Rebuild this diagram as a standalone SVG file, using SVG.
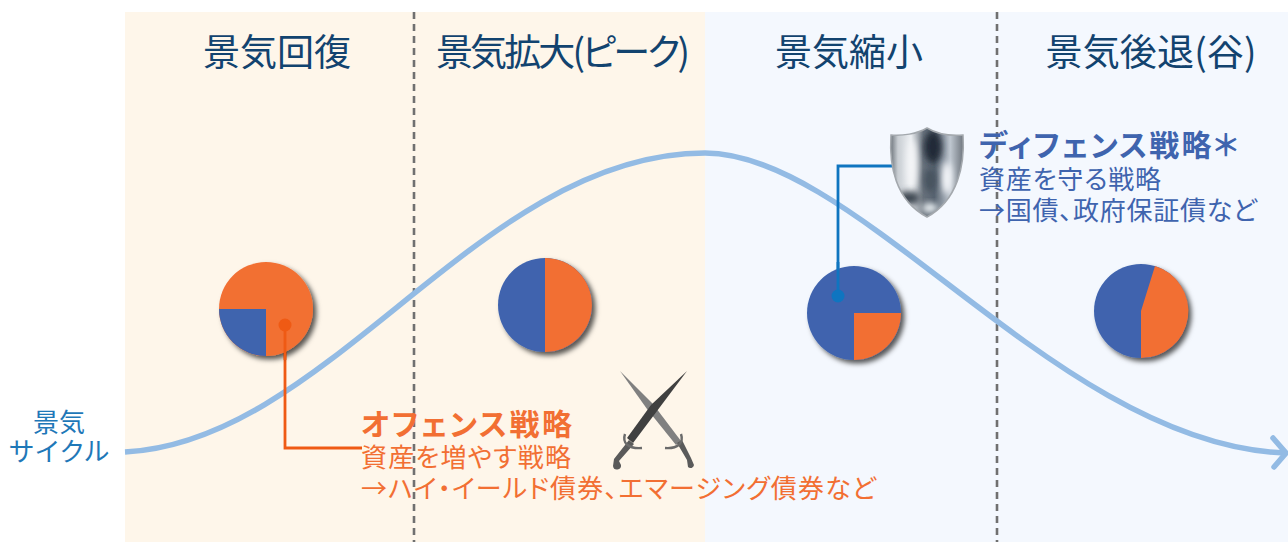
<svg xmlns="http://www.w3.org/2000/svg" width="1288" height="542" viewBox="0 0 1288 542">
<style>
text{font-family:"Noto Sans CJK JP","Noto Sans",sans-serif;font-feature-settings:"palt"}
.h{font-size:37px;fill:#12436f;text-anchor:middle}
.o{fill:#f26f33}.b{fill:#3f64ae}
.s{font-size:26px}
.lab{font-size:26px;fill:#1f78b8;text-anchor:middle}
.dash{stroke:#707070;stroke-width:2.6;stroke-dasharray:7 5;fill:none}
</style>
<defs>
<filter id="sh" x="-20%" y="-20%" width="150%" height="150%"><feDropShadow dx="3.5" dy="3.5" stdDeviation="2.5" flood-color="#000" flood-opacity=".65"/></filter>
<filter id="bl" x="-10%" y="-10%" width="120%" height="120%"><feGaussianBlur stdDeviation=".6"/></filter>
<filter id="bl4" x="-50%" y="-50%" width="200%" height="200%"><feGaussianBlur stdDeviation="3"/></filter>
<linearGradient id="sg" x1="0" x2="1" y1="0" y2="0">
<stop offset="0" stop-color="#6f767d"/><stop offset=".1" stop-color="#c9ced3"/><stop offset=".28" stop-color="#eceff2"/><stop offset=".45" stop-color="#6a737d"/><stop offset=".6" stop-color="#56626f"/><stop offset=".82" stop-color="#bfc7d0"/><stop offset="1" stop-color="#6f767e"/>
</linearGradient>
<clipPath id="sc"><path d="M927 128C917 134 902 136 891 135C889 165 895 200 927 217C958 200 965 165 963 135C950 136 937 134 927 128Z"/></clipPath>
</defs>
<g id="bands">
<rect x="125" y="12" width="580" height="530" fill="#fef6ea"/>
<rect x="705" y="12" width="583" height="530" fill="#f4f8fe"/>
<path class="dash" d="M414 12V542"/>
<path class="dash" d="M997 12V542"/>
</g>
<g id="headers">
<text class="h" x="277" y="66">景気回復</text>
<text class="h" x="563" y="66" textLength="254">景気拡大(ピーク)</text>
<text class="h" x="849" y="66">景気縮小</text>
<text class="h" x="1151" y="66" textLength="211">景気後退(谷)</text>
</g>
<g id="cycle-label">
<text class="lab" x="59" y="432">景気</text>
<text class="lab" x="59" y="461" textLength="100">サイクル</text>
</g>
<g id="connectors" fill="none">
<path d="M125 452C330 442 480 153 705 153C860 153 1060 445 1285 453" stroke="#93bbe4" stroke-width="5.5"/>
<path d="M1273 438L1286 453L1274 467" stroke="#93bbe4" stroke-width="5.5" stroke-linecap="round" stroke-linejoin="round"/>
<path d="M285 325V448H362" stroke="#ef5a14" stroke-width="2.8"/>
<path d="M838 296V166H892" stroke="#0f75c0" stroke-width="2.8"/>
</g>
<g id="pie1"><circle class="o" cx="266" cy="309" r="47" filter="url(#sh)"/><path class="b" d="M266 309H219A47 47 0 0 0 266 356Z"/><path d="M285 325V360" stroke="#ef5a14" stroke-width="2.8"/><circle cx="285" cy="325" r="6.5" fill="#ef5a14"/></g>
<g id="pie2"><circle class="b" cx="545" cy="305" r="47" filter="url(#sh)"/><path class="o" d="M545 258A47 47 0 0 1 545 352Z"/></g>
<g id="pie3"><circle class="b" cx="854" cy="313" r="47" filter="url(#sh)"/><path class="o" d="M854 313H901A47 47 0 0 1 854 360Z"/><path d="M838 262V296" stroke="#0f75c0" stroke-width="2.8"/><circle cx="838" cy="296" r="6.5" fill="#0f75c0"/></g>
<g id="pie4"><circle class="b" cx="1141" cy="311" r="47" filter="url(#sh)"/><path class="o" d="M1155 266A47 47 0 0 1 1141 358V311Z"/></g>
<g id="shield" filter="url(#bl)">
<path d="M927 128C917 134 902 136 891 135C889 165 895 200 927 217C958 200 965 165 963 135C950 136 937 134 927 128Z" fill="url(#sg)"/>
<g clip-path="url(#sc)">
<ellipse cx="933" cy="147" rx="9" ry="16" fill="#222c38" filter="url(#bl4)"/>
<ellipse cx="947" cy="178" rx="5" ry="16" fill="#f6f8fb" filter="url(#bl4)"/>
<ellipse cx="912" cy="165" rx="5" ry="26" fill="#f4f5f7" filter="url(#bl4)"/>
<ellipse cx="909" cy="198" rx="11" ry="7" fill="#3f4852" filter="url(#bl4)"/>
<ellipse cx="930" cy="208" rx="8" ry="5" fill="#e6ecef" filter="url(#bl4)"/>
<ellipse cx="930" cy="180" rx="6" ry="12" fill="#47525e" filter="url(#bl4)"/>
</g>
<path d="M927 128C917 134 902 136 891 135C889 165 895 200 927 217C958 200 965 165 963 135C950 136 937 134 927 128Z" fill="none" stroke="#a3a8ad" stroke-width="1.5"/>
</g>
<g id="swords" filter="url(#bl)">
<path d="M620 371L653 404L681 441L676 445L647 409Z" fill="#808080"/>
<path d="M687 371L657 411L633 443L627 438L651 405Z" fill="#3f3f3f"/>
<path d="M629 440L634 444L619 461L621 465A3.5 3.5 0 0 1 613 466L614 459Z" fill="#5a5a5a"/>
<path d="M677 443L682 440L691 458L694 465A3.5 3.5 0 0 1 688 467L687 460Z" fill="#5a5a5a"/>
<path d="M625 434C622 443 628 449 642 448" stroke="#6a6a6a" stroke-width="2.4" fill="none"/>
<path d="M681 434C684 443 678 449 665 448" stroke="#6a6a6a" stroke-width="2.4" fill="none"/>
</g>
<g id="offense">
<text class="o" x="361" y="435" font-size="30" font-weight="700" textLength="211">オフェンス戦略</text>
<text class="o s" x="361" y="467" textLength="210">資産を増やす戦略</text>
<text class="o s" x="361" y="498" textLength="515">→ハイ・イールド債券、エマージング債券など</text>
</g>
<g id="defense">
<text class="b" x="979" y="156" font-size="30" font-weight="700" textLength="259">ディフェンス戦略＊</text>
<text class="b s" x="979" y="189" textLength="182">資産を守る戦略</text>
<text class="b s" x="979" y="220" textLength="278">→国債、政府保証債など</text>
</g>
</svg>
